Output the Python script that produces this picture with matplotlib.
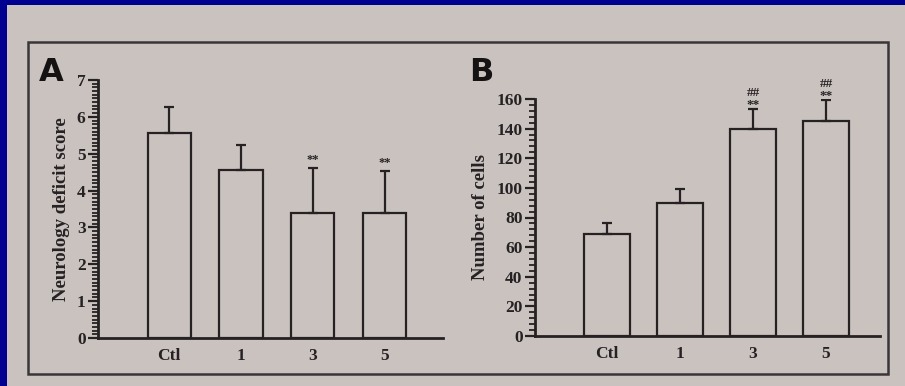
import matplotlib.pyplot as plt
from matplotlib.patches import Rectangle
from matplotlib.ticker import MultipleLocator

# data
groups = ['Ctl', '1', '3', '5']
score_mean = [5.55, 4.55, 3.38, 3.38]
score_err = [0.72, 0.70, 1.23, 1.15]
score_marks = ['', '', '**', '**']

cells_mean = [69, 90, 140, 145]
cells_err = [7, 9, 13, 14]
cells_marks = ['', '', '**', '**']
cells_hash = ['', '', '##', '##']

W, H = 905, 386
paper = '#cac2bf'
ink = '#262224'

fig = plt.figure(figsize=(W / 100, H / 100), dpi=100, facecolor='#000090')

# light slide panel and the frame around both plots
fig.patches.append(Rectangle((7 / W, 0), 1, 1 - 5 / H, transform=fig.transFigure,
                             facecolor=paper, edgecolor='none', zorder=-2))
fig.patches.append(Rectangle((28 / W, 1 - 374 / H), 860 / W, 332 / H, transform=fig.transFigure,
                             facecolor='none', edgecolor='#3a3638', linewidth=1.8, zorder=-1))

serif = {'family': 'Liberation Serif', 'weight': 'bold'}


def bar_panel(rect, means, errs, ylim, major, minor, xlim, width, ylabel):
    ax = fig.add_axes(rect)
    ax.set_facecolor('none')
    x = list(range(len(groups)))
    ax.bar(x, means, width=width, facecolor='none', edgecolor=ink, linewidth=1.6, zorder=2)
    ax.errorbar(x, means, yerr=[[0] * len(errs), errs], fmt='none', ecolor=ink,
                elinewidth=1.6, capsize=3.5, capthick=1.6, zorder=3)
    ax.set_xlim(*xlim)
    ax.set_ylim(*ylim)
    ax.yaxis.set_major_locator(MultipleLocator(major))
    ax.yaxis.set_minor_locator(MultipleLocator(minor))
    ax.tick_params(axis='y', which='major', direction='out', length=7, width=1.6,
                   color=ink, pad=2)
    ax.tick_params(axis='y', which='minor', direction='out', length=4, width=1.3, color=ink)
    ax.tick_params(axis='x', length=0, pad=7)
    ax.set_xticks(x)
    ax.set_xticklabels(groups)
    for lab in ax.get_xticklabels() + ax.get_yticklabels():
        lab.set_fontfamily(serif['family'])
        lab.set_fontweight('bold')
        lab.set_fontsize(12.5)
        lab.set_color(ink)
    ax.set_ylabel(ylabel, fontsize=13.5, color=ink, labelpad=5, **serif)
    for s in ['top', 'right']:
        ax.spines[s].set_visible(False)
    for s in ['left', 'bottom']:
        ax.spines[s].set_linewidth(2)
        ax.spines[s].set_color(ink)
    ax.spines['left'].set_bounds(ylim[0], ylim[1])
    return ax


axA = bar_panel([98 / W, 1 - 338 / H, 345 / W, 258 / H], score_mean, score_err,
                (0, 7), 1, 0.1, (-0.99, 3.81), 0.6, 'Neurology deficit score')
for i, m in enumerate(score_marks):
    axA.text(i, score_mean[i] + score_err[i] + 0.05, m, ha='center', va='bottom',
             fontsize=9, color=ink, **serif)

axB = bar_panel([535 / W, 1 - 336 / H, 345 / W, 237 / H], cells_mean, cells_err,
                (0, 160), 20, 4, (-0.99, 3.74), 0.63, 'Number of cells')
for i, m in enumerate(cells_marks):
    top = cells_mean[i] + cells_err[i]
    axB.text(i, top - 1, m, ha='center', va='bottom', fontsize=9.5, color=ink, **serif)
    axB.text(i, top + 7, cells_hash[i], ha='center', va='bottom', fontsize=9.5,
             color=ink, clip_on=False, **serif)

fig.text(39 / W, 1 - 81 / H, 'A', fontsize=23, fontweight='bold', color='#151214',
         family='DejaVu Sans')
fig.text(469 / W, 1 - 81 / H, 'B', fontsize=23, fontweight='bold', color='#151214',
         family='DejaVu Sans')

fig.savefig('out.png', dpi=100, facecolor=fig.get_facecolor())
